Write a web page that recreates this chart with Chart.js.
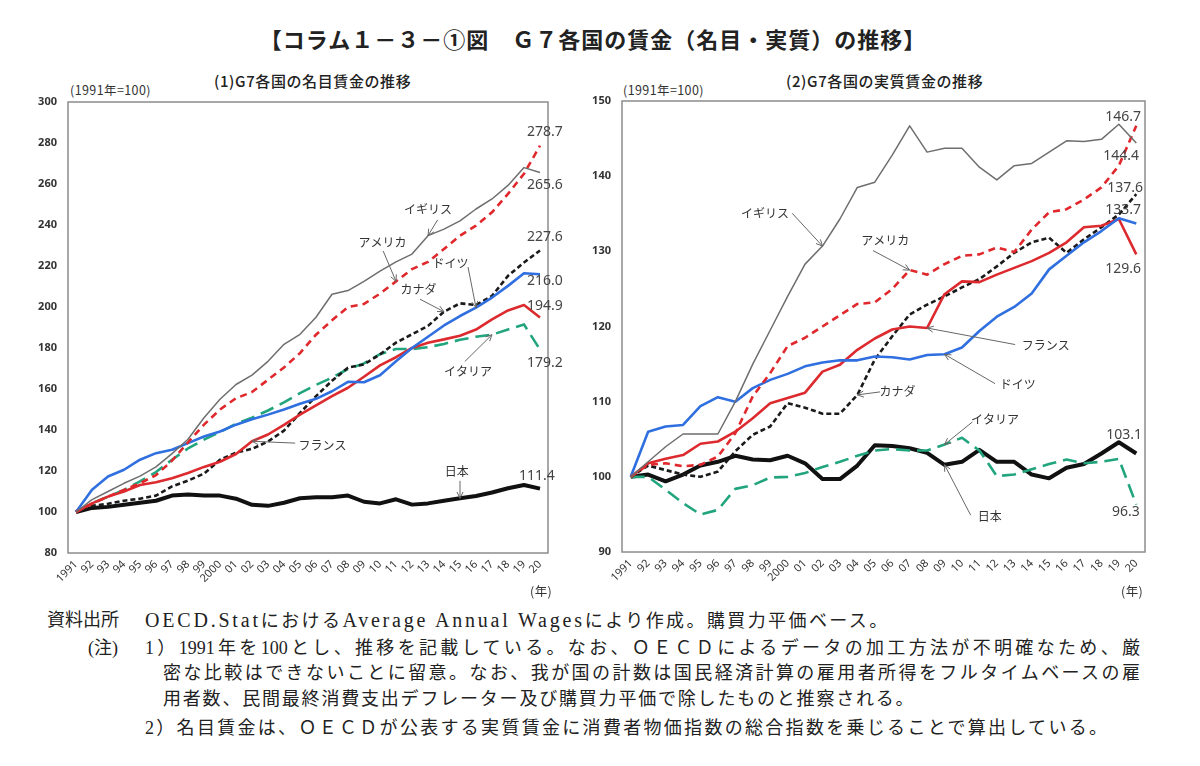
<!DOCTYPE html>
<html lang="ja">
<head>
<meta charset="utf-8">
<title>G7各国の賃金（名目・実質）の推移</title>
<script src="https://cdn.jsdelivr.net/npm/chart.js@4.4.1/dist/chart.umd.min.js"></script>
<style>
    body { margin: 0; width: 1200px; height: 766px; position: relative; overflow: hidden; background: #fff; font-family: "Noto Sans CJK JP", sans-serif; color: #222; }
    #title { position: absolute; top: 25px; left: 0; width: 1186px; text-align: center; font-size: 22px; font-weight: bold; line-height: 26px; letter-spacing: 1px; }
    .panel { position: absolute; top: 60px; width: 600px; height: 540px; }
    .sub { position: absolute; font-size: 15px; line-height: 16px; color: #222; font-weight: 500; letter-spacing: 0.6px; }
    .unit { position: absolute; font-size: 12.5px; line-height: 14px; color: #333; letter-spacing: 0.4px; }
    .note { position: absolute; font-size: 18px; line-height: 26px; white-space: nowrap; font-family: "Liberation Serif", "Noto Sans CJK JP", serif; letter-spacing: 1.8px; }
    .just { text-align: justify; text-align-last: justify; letter-spacing: 0; }
    .latin { font-size: 20px; letter-spacing: 2.8px; }
</style>
</head>
<body>
<div id="title">【コラム１－３－①図　Ｇ７各国の賃金（名目・実質）の推移】</div>

<div class="sub" style="left:214px; top:73px;">(1)G7各国の名目賃金の推移</div>
<div class="unit" style="left:70px; top:83px;">(1991年=100)</div>
<div class="sub" style="left:786px; top:73px;">(2)G7各国の実質賃金の推移</div>
<div class="unit" style="left:623px; top:83px;">(1991年=100)</div>

<div class="panel" style="left:0;"><canvas id="nominalChart" width="600" height="540"></canvas></div>
<div class="panel" style="left:580px;"><canvas id="realChart" width="600" height="540"></canvas></div>

<div class="unit" style="left:530px; top:584px;">(年)</div>
<div class="unit" style="left:1121px; top:584px;">(年)</div>

<div class="note" style="left:47px; top:607px; letter-spacing:0;">資料出所</div>
<div class="note" style="left:145px; top:607px; letter-spacing:2.4px;"><span class="latin">OECD.Stat</span>における<span class="latin">Average Annual Wages</span>により作成。購買力平価ベース。</div>
<div class="note" style="left:88px; top:635px; letter-spacing:0;">(注)</div>
<div class="note just" style="left:145px; top:635px; width:995px;">1）1991年を100とし、推移を記載している。なお、ＯＥＣＤによるデータの加工方法が不明確なため、厳</div>
<div class="note just" style="left:163px; top:660px; width:977px;">密な比較はできないことに留意。なお、我が国の計数は国民経済計算の雇用者所得をフルタイムベースの雇</div>
<div class="note" style="left:163px; top:686px;">用者数、民間最終消費支出デフレーター及び購買力平価で除したものと推察される。</div>
<div class="note" style="left:145px; top:715px; letter-spacing:2.3px;">2）名目賃金は、ＯＥＣＤが公表する実質賃金に消費者物価指数の総合指数を乗じることで算出している。</div>

<script>
// Years and axis labels
const years = [1991, 1992, 1993, 1994, 1995, 1996, 1997, 1998, 1999, 2000,
               2001, 2002, 2003, 2004, 2005, 2006, 2007, 2008, 2009, 2010,
               2011, 2012, 2013, 2014, 2015, 2016, 2017, 2018, 2019, 2020];
const yearLabels = ['1991', '92', '93', '94', '95', '96', '97', '98', '99', '2000',
                    '01', '02', '03', '04', '05', '06', '07', '08', '09', '10',
                    '11', '12', '13', '14', '15', '16', '17', '18', '19', '20'];
const countries = ['イギリス', 'アメリカ', 'ドイツ', 'フランス', 'カナダ', 'イタリア', '日本'];

// (1) Nominal wages, 1991 = 100
const nominalUK = [100, 106, 110, 114, 117.5, 122, 128.5, 135.5, 146, 155, 162.2, 166.8, 173.5, 181.8, 186.7,
                   195, 206.2, 208, 212.5, 217.5, 222, 225.8, 234.8, 238, 242, 247.8, 252.7, 259.3, 268, 265.6];
const nominalUS = [100, 104, 107.5, 110.8, 114, 118, 125, 134, 142.6, 150, 155.5, 158.5, 164.5, 170.5, 177.5,
                   186.5, 193.5, 200, 201.5, 206.5, 212.5, 218.5, 222, 228.3, 234.8, 239.7, 246.2, 255.2, 265, 278.7];
const nominalDE = [100, 110.8, 117.3, 120.6, 125.5, 128.7, 130.4, 133.6, 136.8, 139.3, 142.6, 145.2, 147.5, 150, 152.8,
                   155.2, 158.9, 163.5, 163.3, 166.7, 173.5, 180, 185.5, 191, 195.6, 199.7, 204.6, 210.3, 216.5, 216.0];
const nominalFR = [100, 104.2, 107.5, 110, 113.2, 114.5, 116.5, 119, 122, 124.5, 128.3, 134.5, 137.8, 142.5, 147.5,
                   152, 156.5, 160.6, 166, 171.5, 175.5, 180, 182.6, 184.2, 186, 189, 194, 198.3, 201, 194.9];
const nominalCA = [100, 103, 104, 105.5, 106.5, 108, 112.5, 115.3, 118.7, 125.5, 129, 130.8, 134.4, 139.7, 148.3,
                   156.5, 164, 170.4, 172, 176.9, 182.6, 186.7, 190.8, 197.7, 201.8, 201, 205.4, 215.2, 221.7, 227.6];
const nominalIT = [100, 104.2, 107.5, 110.8, 114.9, 119.5, 125.5, 131, 135.3, 139, 143, 146, 149.5, 153.5, 158,
                   162, 165.5, 169.8, 172.5, 177, 179.5, 179.5, 180.4, 182, 184, 185.5, 186.5, 189, 191.5, 179.2];
const nominalJP = [100, 102, 102.5, 103.5, 104.5, 105.5, 108, 108.5, 108, 108, 106.5, 103.5, 103, 104.5, 106.7,
                   107.2, 107.2, 108, 105, 104.2, 106.2, 103.6, 104.2, 105.5, 106.7, 107.8, 109.5, 111.6, 113.2, 111.4];

// (2) Real wages, 1991 = 100
const realUK = [100, 102, 104, 105.7, 105.7, 105.7, 110, 115, 119.5, 124, 128.3, 130.7, 134.3, 138.5, 139.2,
                142.8, 146.7, 143.2, 143.7, 143.7, 141.2, 139.5, 141.4, 141.7, 143.2, 144.7, 144.6, 144.9, 146.9, 144.4];
const realUS = [100, 101.6, 101.8, 101.4, 101.6, 102.7, 105.8, 110.7, 113.8, 117.4, 118.5, 120, 121.5, 123, 123.2,
                125, 127.5, 126.9, 128.3, 129.4, 129.6, 130.5, 129.9, 132.9, 135.2, 135.6, 136.9, 138.5, 141.4, 146.7];
const realDE = [100, 106, 106.7, 106.9, 109.4, 110.6, 110, 111.8, 112.9, 113.7, 114.7, 115.2, 115.5, 115.5, 116,
                115.9, 115.6, 116.2, 116.3, 117.2, 119.4, 121.3, 122.6, 124.4, 127.6, 129.4, 131.2, 132.7, 134.4, 133.7];
const realFR = [100, 101.8, 102.4, 102.9, 104.4, 104.7, 106, 107.8, 109.8, 110.5, 111.2, 114, 114.9, 116.9, 118.4,
                119.6, 120, 119.8, 124.3, 126, 125.9, 126.9, 127.8, 128.7, 129.8, 131.2, 133.2, 133.4, 134.3, 129.6];
const realCA = [100, 101.5, 100.9, 100.3, 100, 100.7, 103.4, 105.6, 106.7, 109.8, 109.2, 108.4, 108.4, 110.9, 115.6,
                118.7, 121.6, 122.9, 124, 125.2, 126.3, 128, 129.8, 131.2, 131.8, 129.8, 131.6, 133.2, 134.9, 137.6];
const realIT = [100, 100, 98.3, 96.5, 95, 95.6, 98.4, 98.9, 99.9, 100, 100.5, 101.3, 102, 102.8, 103.5,
                103.7, 103.5, 103.5, 104.3, 105.2, 103.5, 100.1, 100.3, 101, 101.7, 102.3, 101.8, 102, 102.4, 96.3];
const realJP = [100, 100.3, 99.4, 100.3, 101.5, 102, 102.8, 102.3, 102.2, 102.8, 101.8, 99.7, 99.7, 101.5, 104.2,
                104.1, 103.8, 103.2, 101.6, 102, 103.6, 102, 102, 100.3, 99.8, 101.2, 101.7, 103.1, 104.6, 103.1];

// Line styles, same order as countries
const lineStyles = [
    { color: '#6e6e6e', width: 1.5, dash: [] },
    { color: '#e0282c', width: 2.6, dash: [7, 5] },
    { color: '#2f6fe0', width: 2.6, dash: [] },
    { color: '#dc2a2e', width: 2.6, dash: [] },
    { color: '#1a1a1a', width: 2.6, dash: [5, 3] },
    { color: '#22a57e', width: 2.6, dash: [14, 7] },
    { color: '#111111', width: 4, dash: [] }
];

// Annotations: text placed at data coordinates, arrow to a data point
const nominalPointers = [
    { set: 0, year: 2013, at: [2013.0, 247.4], from: [2013.6, 242.5] },
    { set: 1, year: 2011, at: [2010.15, 231.7], from: [2010.2, 227.3] },
    { set: 2, year: 2016, at: [2014.4, 221.4], from: [2015.5, 219.5] },
    { set: 4, year: 2014, at: [2012.4, 208.7], from: [2012.5, 203.8] },
    { set: 5, year: 2017, at: [2015.5, 168.5], from: [2015.3, 173.4] },
    { set: 3, year: 2002, at: [2006.4, 132.3], from: [2004.7, 133.6] },
    { set: 6, year: 2015, at: [2014.8, 119.6], from: [2015.0, 115.2] }
];
const nominalValues = [
    { set: 1, at: [2020.3, 285.6] },
    { set: 0, at: [2020.3, 259.6] },
    { set: 4, at: [2020.3, 234.1] },
    { set: 2, at: [2020.3, 212.6] },
    { set: 3, at: [2020.3, 200.4] },
    { set: 5, at: [2020.3, 172.9] },
    { set: 6, at: [2019.8, 117.6] }
];
const realPointers = [
    { set: 0, year: 2002, at: [1998.7, 135.07], from: [2000.26, 135.07] },
    { set: 1, year: 2007, at: [2005.6, 131.47], from: [2004.9, 130.1] },
    { set: 3, year: 2008, at: [2014.8, 117.5], from: [2013.05, 117.6] },
    { set: 2, year: 2009, at: [2013.2, 112.3], from: [2011.9, 112.4] },
    { set: 4, year: 2004, at: [2006.3, 111.3], from: [2005.3, 111.3] },
    { set: 5, year: 2009, at: [2011.9, 107.6], from: [2010.6, 107.3] },
    { set: 6, year: 2009, at: [2011.6, 94.67], from: [2010.5, 94.9] }
];
const realValues = [
    { set: 1, at: [2019.24, 147.87] },
    { set: 0, at: [2019.13, 142.67] },
    { set: 4, at: [2019.36, 138.4] },
    { set: 2, at: [2019.24, 135.47] },
    { set: 3, at: [2019.24, 127.6] },
    { set: 6, at: [2019.3, 105.6] },
    { set: 5, at: [2019.4, 95.33] }
];

// Frame, country labels with arrows, end values
const notesPlugin = {
    id: 'notes',
    afterDatasetsDraw(chart, args, opts) {
        const ctx = chart.ctx;
        const area = chart.chartArea;
        const xs = chart.scales.x;
        const ys = chart.scales.y;
        ctx.save();

        ctx.strokeStyle = '#8c8c8c';
        ctx.lineWidth = 1.5;
        ctx.strokeRect(area.left, area.top, area.width, area.height);

        ctx.textAlign = 'center';
        ctx.textBaseline = 'middle';
        opts.pointers.forEach(p => {
            const point = chart.data.datasets[p.set].data[years.indexOf(p.year)];
            const px = xs.getPixelForValue(point.x);
            const py = ys.getPixelForValue(point.y);
            const sx = xs.getPixelForValue(p.from[0]);
            const sy = ys.getPixelForValue(p.from[1]);

            ctx.font = '12px "Noto Sans CJK JP"';
            ctx.fillStyle = '#333';
            ctx.fillText(countries[p.set], xs.getPixelForValue(p.at[0]), ys.getPixelForValue(p.at[1]));

            ctx.strokeStyle = '#666';
            ctx.lineWidth = 1;
            ctx.beginPath();
            ctx.moveTo(sx, sy);
            ctx.lineTo(px, py);
            ctx.stroke();
            const ang = Math.atan2(py - sy, px - sx);
            ctx.beginPath();
            ctx.moveTo(px - 7 * Math.cos(ang - 0.45), py - 7 * Math.sin(ang - 0.45));
            ctx.lineTo(px, py);
            ctx.lineTo(px - 7 * Math.cos(ang + 0.45), py - 7 * Math.sin(ang + 0.45));
            ctx.stroke();
        });

        ctx.font = '14px "Noto Sans"';
        ctx.fillStyle = '#444';
        opts.values.forEach(v => {
            const data = chart.data.datasets[v.set].data;
            const text = data[data.length - 1].y.toFixed(1);
            ctx.fillText(text, xs.getPixelForValue(v.at[0]), ys.getPixelForValue(v.at[1]));
        });
        ctx.restore();
    }
};

function makeDatasets(seriesList) {
    return seriesList.map((values, i) => ({
        label: countries[i],
        data: values.map((v, j) => ({ x: years[j], y: v })),
        borderColor: lineStyles[i].color,
        borderWidth: lineStyles[i].width,
        borderDash: lineStyles[i].dash,
        borderJoinStyle: 'round',
        pointRadius: 0,
        tension: 0,
        fill: false
    }));
}

function buildChart(canvasId, seriesList, yMin, yMax, yStep, layout, notes) {
    const ctx = document.getElementById(canvasId).getContext('2d');
    return new Chart(ctx, {
        type: 'line',
        data: { datasets: makeDatasets(seriesList) },
        options: {
            responsive: false,
            animation: false,
            devicePixelRatio: 1,
            layout: { padding: { top: layout.top, right: layout.right, bottom: 0, left: 0 } },
            plugins: {
                legend: { display: false },
                tooltip: { enabled: false },
                notes: notes
            },
            scales: {
                x: {
                    type: 'linear',
                    min: years[0] - 0.5,
                    max: years[years.length - 1] + 0.5,
                    afterBuildTicks: axis => { axis.ticks = years.map(v => ({ value: v })); },
                    afterFit: axis => { axis.height = layout.xHeight; },
                    grid: { display: false, drawTicks: false },
                    border: { display: false },
                    ticks: {
                        autoSkip: false,
                        minRotation: 45,
                        maxRotation: 45,
                        padding: 5,
                        color: '#333',
                        font: { family: '"Noto Sans"', size: 11 },
                        callback: v => yearLabels[years.indexOf(v)] || ''
                    }
                },
                y: {
                    min: yMin,
                    max: yMax,
                    afterFit: axis => { axis.width = layout.yWidth; },
                    grid: { display: false, drawTicks: false },
                    border: { display: false },
                    ticks: {
                        stepSize: yStep,
                        padding: 11,
                        color: '#333',
                        font: { family: '"Noto Sans"', size: 11, weight: 'bold' }
                    }
                }
            }
        },
        plugins: [notesPlugin]
    });
}

buildChart('nominalChart',
    [nominalUK, nominalUS, nominalDE, nominalFR, nominalCA, nominalIT, nominalJP],
    80, 300, 20,
    { top: 42, right: 52, xHeight: 47, yWidth: 68 },
    { pointers: nominalPointers, values: nominalValues });

buildChart('realChart',
    [realUK, realUS, realDE, realFR, realCA, realIT, realJP],
    90, 150, 10,
    { top: 41, right: 35, xHeight: 48, yWidth: 42 },
    { pointers: realPointers, values: realValues });
</script>
</body>
</html>
